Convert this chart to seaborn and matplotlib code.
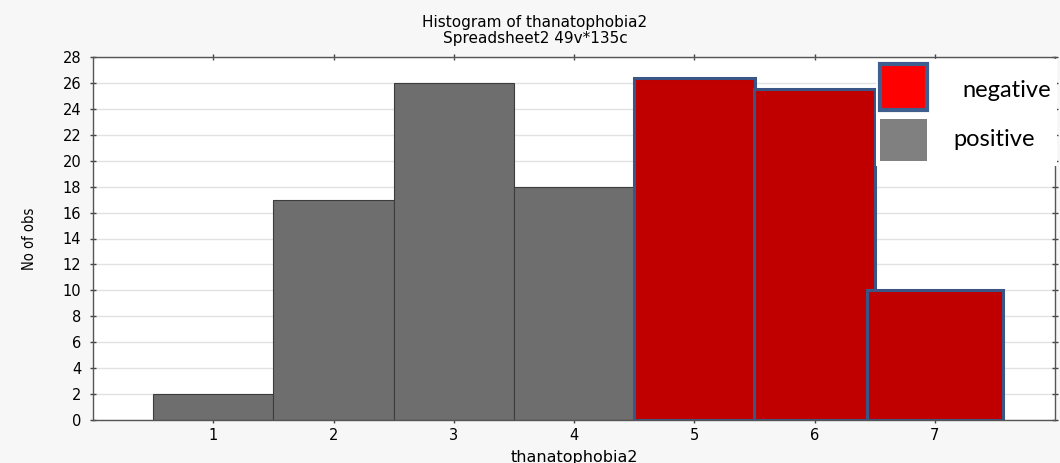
import matplotlib
matplotlib.use("Agg")
import matplotlib.pyplot as plt
import seaborn as sns
from matplotlib.patches import Rectangle

# data
pos_bins = [1, 2, 3, 4]
pos_counts = [2, 17, 26, 18]
neg_bins = [5, 6]
neg_counts = [26.4, 25.5]
neg_bins_last = [7]
neg_counts_last = [10]
xticks = [1, 2, 3, 4, 5, 6, 7]
yticks = list(range(0, 29, 2))

sns.set_theme(style="white")
plt.rcParams['font.family'] = ['DejaVu Sans']
plt.rcParams['text.color'] = 'black'
plt.rcParams['axes.labelcolor'] = 'black'
plt.rcParams['xtick.labelcolor'] = 'black'
plt.rcParams['ytick.labelcolor'] = 'black'

fig = plt.figure(figsize=(10.6, 4.63), dpi=100, facecolor="#f7f7f7")
ax = fig.add_axes([93/1060, 1-420/463, (1055-93)/1060, (420-57)/463])
ax.set_facecolor("white")

sns.barplot(x=pos_bins, y=pos_counts, native_scale=True, width=1, color="#6e6e6e",
            saturation=1, edgecolor="#3c3c3c", linewidth=0.8, ax=ax)
sns.barplot(x=neg_bins, y=neg_counts, native_scale=True, width=1.01, color="#c00000",
            saturation=1, edgecolor="#3b5585", linewidth=2.2, ax=ax)
sns.barplot(x=neg_bins_last, y=neg_counts_last, native_scale=True, width=1.13, color="#c00000",
            saturation=1, edgecolor="#3b5585", linewidth=2.2, ax=ax)

ax.set_xlim(0, 8)
ax.set_ylim(0, 28)
ax.set_xticks(xticks)
ax.set_xticklabels([str(v) for v in xticks], fontsize=10.5)
ax.set_yticks(yticks)
ax.set_yticklabels([str(v) for v in yticks], fontsize=10.5)
ax.yaxis.grid(True, color="#e2e2e2", linewidth=1)
ax.set_axisbelow(True)
for s in ax.spines.values():
    s.set_color("#555555")
    s.set_linewidth(1)
    s.set_visible(True)
ax.tick_params(axis='both', which='both', direction='inout', length=5, width=1,
               color="#444444", left=True, bottom=True, top=True, right=True,
               labeltop=False, labelright=False)
ax.tick_params(axis='x', pad=3)
ax.tick_params(axis='y', pad=6)

ax.set_xlabel("thanatophobia2", fontsize=11.5, labelpad=5)
ax.set_ylabel("No of obs", fontsize=10.5, fontstretch='condensed', labelpad=18)

fig.text(535/1060, 1-23/463, "Histogram of thanatophobia2", ha='center', va='center', fontsize=11)
fig.text(535/1060, 1-38/463, "Spreadsheet2 49v*135c", ha='center', va='center', fontsize=11)

def fx(px):
    return px/1060
def fy(py):
    return 1-py/463

fig.patches.append(Rectangle((fx(876), fy(166)), fx(1057)-fx(876), fy(59)-fy(166),
                             transform=fig.transFigure, facecolor="white", edgecolor="none", zorder=5))
fig.patches.append(Rectangle((fx(880), fy(110)), fx(927)-fx(880), fy(64)-fy(110),
                             transform=fig.transFigure, facecolor="#ff0000", edgecolor="#3f5f8f",
                             linewidth=3, zorder=6))
fig.patches.append(Rectangle((fx(880), fy(161)), fx(927)-fx(880), fy(119)-fy(161),
                             transform=fig.transFigure, facecolor="#808080", edgecolor="none", zorder=6))
fig.text(fx(1007), fy(91), "negative", ha='center', va='center', fontsize=17,
         family=['Lato', 'DejaVu Sans'], zorder=7)
fig.text(fx(994), fy(140), "positive", ha='center', va='center', fontsize=17,
         family=['Lato', 'DejaVu Sans'], zorder=7)

fig.savefig("out.png", dpi=100, facecolor=fig.get_facecolor())
